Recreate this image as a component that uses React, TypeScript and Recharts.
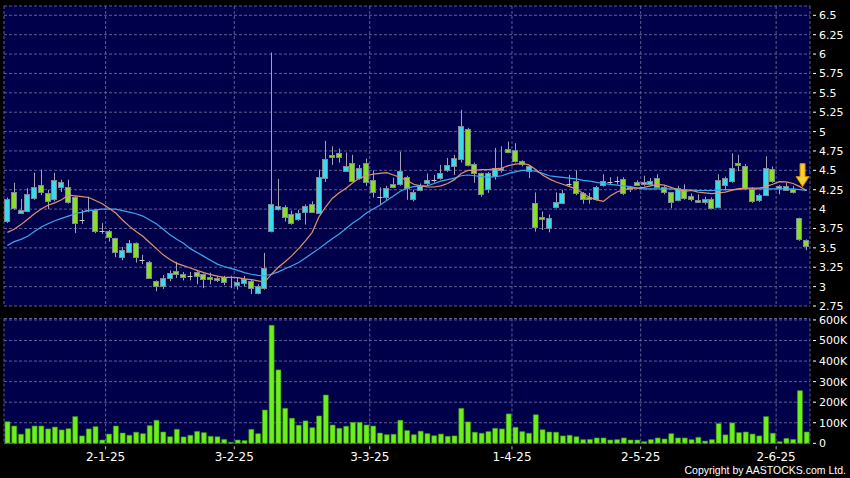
import React from "react";
import {
  ComposedChart,
  BarChart,
  Bar,
  Line,
  XAxis,
  YAxis,
  CartesianGrid,
  ReferenceDot,
} from "recharts";

// trading days per month (day of month)
const dec24 = [9, 10, 11, 12, 13, 16, 17, 18, 19, 20, 23, 24, 27, 30, 31];
const jan25 = [2, 3, 6, 7, 8, 9, 10, 13, 14, 15, 16, 17, 20, 21, 22, 23, 24, 27, 28];
const feb25 = [3, 4, 5, 6, 7, 10, 11, 12, 13, 14, 17, 18, 19, 20, 21, 24, 25, 26, 27, 28];
const mar25 = [3, 4, 5, 6, 7, 10, 11, 12, 13, 14, 17, 18, 19, 20, 21, 24, 25, 26, 27, 28, 31];
const apr25 = [1, 2, 3, 7, 8, 9, 10, 11, 14, 15, 16, 17, 22, 23, 24, 25, 28, 29, 30];
const may25 = [2, 6, 7, 8, 9, 12, 13, 14, 15, 16, 19, 20, 21, 22, 23, 26, 27, 28, 29, 30];
const jun25 = [2, 3, 4, 5, 6];

const months = [
  { m: 12, y: 24, days: dec24 },
  { m: 1, y: 25, days: jan25 },
  { m: 2, y: 25, days: feb25 },
  { m: 3, y: 25, days: mar25 },
  { m: 4, y: 25, days: apr25 },
  { m: 5, y: 25, days: may25 },
  { m: 6, y: 25, days: jun25 },
];

const opens = [
  3.84, 4.22, 3.95, 3.98, 4.15, 4.31, 4.21, 4.13, 4.29, 4.28,
  4.16, 3.86, 3.99, 3.99, 3.72, 3.72, 3.63, 3.38, 3.45, 3.56,
  3.34, 3.32, 3.07, 3.01, 3.11, 3.2, 3.16, 3.14, 3.19, 3.16,
  3.125, 3.09, 3.125, 3.12, 3.02, 3.05, 3.07, 2.92, 2.98, 3.72,
  4.0, 4.03, 3.94, 3.875, 3.965, 4.07, 3.95, 4.405, 4.7, 4.73,
  4.495, 4.59, 4.4, 4.6, 4.37, 4.16, 4.155, 4.32, 4.32, 4.41,
  4.12, 4.25, 4.335, 4.38, 4.4, 4.51, 4.56, 4.64, 5.03, 4.58,
  4.46, 4.26, 4.43, 4.5, 4.78, 4.76, 4.615, 4.48, 4.085, 3.9,
  3.755, 4.025, 4.08, 4.32, 4.36, 4.21, 4.16, 4.13, 4.305, 4.35,
  4.36, 4.39, 4.25, 4.35, 4.315, 4.32, 4.4, 4.28, 4.215, 4.12,
  4.26, 4.165, 4.095, 4.09, 4.13, 4.02, 4.305, 4.36, 4.59, 4.55,
  4.26, 4.12, 4.185, 4.52, 4.3, 4.3, 4.26, 3.88, 3.6,
];

const highs = [
  4.15, 4.34, 4.13, 4.27, 4.47, 4.51, 4.25, 4.47, 4.38, 4.38,
  4.17, 3.99, 4.16, 4.0, 3.82, 3.73, 3.63, 3.51, 3.6, 3.57,
  3.41, 3.33, 3.08, 3.15, 3.21, 3.32, 3.19, 3.19, 3.2, 3.17,
  3.18, 3.14, 3.14, 3.14, 3.12, 3.14, 3.09, 3.03, 3.435, 6.02,
  4.39, 4.05, 3.98, 3.99, 4.06, 4.1, 4.51, 4.88, 4.81, 4.78,
  4.73, 4.7, 4.57, 4.65, 4.5, 4.28, 4.3, 4.405, 4.74, 4.43,
  4.25, 4.33, 4.46, 4.44, 4.57, 4.66, 4.7, 5.28, 5.05, 4.6,
  4.47, 4.48, 4.79, 4.81, 4.87, 4.85, 4.63, 4.57, 4.215, 3.97,
  3.93, 4.215, 4.25, 4.44, 4.5, 4.22, 4.21, 4.3, 4.45, 4.41,
  4.42, 4.41, 4.3, 4.37, 4.43, 4.4, 4.45, 4.3, 4.22, 4.3,
  4.32, 4.2, 4.19, 4.16, 4.15, 4.45, 4.42, 4.72, 4.7, 4.58,
  4.28, 4.2, 4.68, 4.55, 4.31, 4.34, 4.3, 3.89, 3.61,
];

const lows = [
  3.82, 3.99, 3.94, 3.96, 4.12, 4.18, 4.0, 4.1, 4.22, 4.07,
  3.69, 3.81, 3.96, 3.69, 3.68, 3.58, 3.38, 3.34, 3.43, 3.31,
  3.29, 3.1, 2.94, 2.97, 3.07, 3.11, 3.08, 3.08, 3.03, 2.98,
  3.03, 3.06, 3.02, 2.98, 2.96, 3.0, 2.905, 2.9, 2.96, 3.7,
  3.98, 3.84, 3.8, 3.85, 3.8, 3.95, 3.94, 4.35, 4.57, 4.6,
  4.48, 4.35, 4.38, 4.3, 4.15, 4.06, 4.12, 4.27, 4.3, 4.12,
  4.1, 4.23, 4.3, 4.34, 4.38, 4.48, 4.44, 4.6, 4.55, 4.34,
  4.16, 4.21, 4.38, 4.47, 4.72, 4.6, 4.55, 4.4, 3.71, 3.73,
  3.7, 4.01, 4.07, 4.29, 4.18, 4.07, 4.07, 4.11, 4.29, 4.31,
  4.32, 4.18, 4.22, 4.3, 4.3, 4.3, 4.28, 4.19, 4.01, 4.1,
  4.12, 4.1, 4.08, 4.06, 4.0, 4.01, 4.24, 4.34, 4.49, 4.25,
  4.08, 4.09, 4.17, 4.34, 4.19, 4.24, 4.2, 3.59, 3.47,
];

const closes = [
  4.13, 4.02, 3.99, 4.2, 4.29, 4.22, 4.11, 4.37, 4.35, 4.09,
  3.82, 3.86, 3.99, 3.72, 3.72, 3.64, 3.45, 3.47, 3.56, 3.38,
  3.34, 3.11, 3.01, 3.11, 3.18, 3.16, 3.125, 3.14, 3.14, 3.09,
  3.1, 3.11, 3.06, 3.12, 3.06, 3.1, 2.98, 3.01, 3.24, 4.07,
  4.04, 3.9, 3.82, 3.95, 4.04, 3.965, 4.42, 4.65, 4.68, 4.68,
  4.56, 4.36, 4.53, 4.36, 4.22, 4.16, 4.27, 4.285, 4.49, 4.27,
  4.215, 4.3, 4.37, 4.38, 4.465, 4.57, 4.66, 5.07, 4.57, 4.46,
  4.185, 4.46, 4.53, 4.53, 4.745, 4.615, 4.57, 4.55, 3.775, 3.88,
  3.885, 4.09, 4.21, 4.32, 4.21, 4.13, 4.14, 4.28, 4.36, 4.35,
  4.36, 4.215, 4.28, 4.315, 4.345, 4.365, 4.29, 4.215, 4.09, 4.27,
  4.14, 4.13, 4.12, 4.13, 4.01, 4.37, 4.4, 4.53, 4.56, 4.26,
  4.11, 4.185, 4.53, 4.36, 4.27, 4.25, 4.22, 3.61, 3.52,
];

// short moving average (orange)
const maShort = [
  3.7, 3.74, 3.8, 3.87, 3.94, 4.0, 4.05, 4.08, 4.12, 4.18,
  4.17, 4.16, 4.15, 4.11, 4.07, 4.01, 3.95, 3.86, 3.78, 3.71,
  3.65, 3.57, 3.49, 3.41, 3.35, 3.3, 3.27, 3.24, 3.21, 3.18,
  3.155, 3.135, 3.12, 3.12, 3.115, 3.1, 3.09, 3.075, 3.06, 3.16,
  3.25, 3.32, 3.4, 3.49, 3.59, 3.7, 3.9, 4.03, 4.14, 4.21,
  4.27, 4.34, 4.4, 4.43, 4.45, 4.46, 4.47, 4.44, 4.41, 4.37,
  4.32, 4.3, 4.285, 4.285, 4.3, 4.33, 4.38, 4.46, 4.5, 4.5,
  4.51, 4.51, 4.52, 4.53, 4.56, 4.58, 4.59, 4.57, 4.51, 4.44,
  4.39, 4.35, 4.32, 4.29, 4.26, 4.2, 4.15, 4.12, 4.1, 4.17,
  4.22, 4.25, 4.27, 4.27, 4.28, 4.3, 4.32, 4.31, 4.28, 4.25,
  4.23, 4.24, 4.22, 4.21, 4.2, 4.21, 4.22, 4.245, 4.265, 4.27,
  4.27, 4.27, 4.29, 4.32, 4.355, 4.35, 4.33, 4.29, 4.24,
];

// long moving average (blue)
const maLong = [
  3.53, 3.58, 3.61, 3.65, 3.71, 3.77, 3.81, 3.85, 3.88, 3.91,
  3.94, 3.96, 3.98, 3.99, 4.0, 4.0, 4.0, 3.98, 3.96, 3.94,
  3.91, 3.86, 3.81, 3.74, 3.67, 3.61, 3.56, 3.49, 3.44, 3.39,
  3.34, 3.29, 3.26, 3.235, 3.21, 3.18, 3.16, 3.145, 3.14, 3.16,
  3.19, 3.23, 3.27, 3.31, 3.37, 3.43, 3.49, 3.555, 3.62, 3.68,
  3.75, 3.82, 3.88, 3.95, 4.0, 4.05, 4.11, 4.17, 4.23, 4.27,
  4.29, 4.3, 4.3, 4.33, 4.36, 4.38, 4.4, 4.43, 4.44, 4.43,
  4.42, 4.41, 4.42, 4.43, 4.46, 4.48, 4.5, 4.5, 4.49, 4.46,
  4.43, 4.42, 4.41, 4.4, 4.39, 4.37, 4.36, 4.345, 4.33, 4.32,
  4.31, 4.3, 4.29, 4.27, 4.26, 4.26, 4.26, 4.26, 4.26, 4.255,
  4.25, 4.245, 4.24, 4.24, 4.24, 4.245, 4.25, 4.25, 4.255, 4.26,
  4.26, 4.26, 4.26, 4.26, 4.26, 4.26, 4.26, 4.25, 4.24,
];

// volume in thousands of shares
const volumes = [
  105, 84, 44, 71, 84, 84, 70, 79, 65, 71,
  130, 36, 70, 81, 16, 45, 84, 50, 39, 54,
  47, 86, 112, 55, 32, 68, 31, 39, 58, 52,
  34, 32, 19, 5, 16, 13, 68, 47, 162, 574,
  357, 170, 122, 88, 109, 76, 133, 235, 89, 73,
  83, 102, 102, 89, 84, 50, 42, 44, 112, 62,
  42, 59, 47, 37, 45, 34, 36, 170, 104, 54,
  49, 57, 73, 70, 143, 78, 57, 49, 139, 66,
  55, 54, 36, 39, 32, 18, 19, 26, 26, 16,
  18, 26, 16, 16, 8, 18, 26, 21, 47, 26,
  26, 18, 29, 11, 18, 96, 41, 99, 52, 55,
  45, 36, 130, 49, 8, 24, 19, 256, 55,
];

const priceTicks = [2.75, 3, 3.25, 3.5, 3.75, 4, 4.25, 4.5, 4.75, 5, 5.25, 5.5, 5.75, 6, 6.25, 6.5];
const volumeTicks = [0, 100000, 200000, 300000, 400000, 500000, 600000];

const dates = months.flatMap(({ m, y, days }) => days.map((d) => `${d}-${m}-${y}`));

const rows = dates.map((date, i) => ({
  idx: i,
  date,
  open: opens[i],
  high: highs[i],
  low: lows[i],
  close: closes[i],
  maShort: maShort[i],
  maLong: maLong[i],
  volume: volumes[i] * 1000,
}));

// grid line sits on the boundary before the first trading day of each month
const monthStarts: number[] = [];
months.reduce((start, mo, k) => {
  if (k > 0) monthStarts.push(start - 0.5);
  return start + mo.days.length;
}, 0);

const xDomain = [-0.5, dates.length - 0.5];

const BG = "#00004a";
const GRID = "#5e5e92";
const UP = "#38dbea";
const DOWN = "#88e026";
const WICK = "#a2a2b2";
const FONT = "DejaVu Sans";

function Candle(props: any) {
  const { x, y, width, height, payload } = props;
  if (x == null || y == null) return null;
  const { open, close, high, low } = payload;
  const top0 = Math.min(y, y + height);
  const h = Math.abs(height);
  const toY = (p: number) => top0 + ((high - p) / (high - low)) * h;
  const cx = Math.round(x + width / 2) + 0.5;
  const left = Math.round(x) + 0.5;
  const w = Math.round(width) - 1;
  if (Math.abs(close - open) < 0.005) {
    const yy = Math.round(toY(close)) + 0.5;
    return (
      <g>
        <line x1={cx} x2={cx} y1={top0} y2={top0 + h} stroke={WICK} />
        <line x1={left} x2={left + w} y1={yy} y2={yy} stroke="#c8c8c8" />
      </g>
    );
  }
  const bt = toY(Math.max(open, close));
  const bb = toY(Math.min(open, close));
  const up = close > open;
  return (
    <g>
      <line x1={cx} x2={cx} y1={top0} y2={top0 + h} stroke={WICK} />
      <rect
        x={left}
        y={Math.round(bt) + 0.5}
        width={w}
        height={Math.max(1, Math.round(bb - bt))}
        fill={up ? UP : DOWN}
        stroke="#7d8a94"
        strokeWidth={1}
      />
    </g>
  );
}

function Arrow(props: any) {
  const { cx, cy } = props;
  if (cx == null || cy == null) return null;
  const d = `M${cx - 2.5},${cy - 23} L${cx + 2.5},${cy - 23} L${cx + 2.5},${cy - 10} L${cx + 6.5},${cy - 10} L${cx},${cy} L${cx - 6.5},${cy - 10} L${cx - 2.5},${cy - 10} Z`;
  return <path d={d} fill="#f8d22a" stroke="#d08a00" strokeWidth={1} />;
}

const fmtPrice = (v: number) => String(v);
const fmtVolume = (v: number) => (v === 0 ? "0" : `${v / 1000}K`);

function RightTick(props: any) {
  const { x, y, payload, fmt } = props;
  return (
    <g>
      <line x1={x + 3} x2={x + 6} y1={y} y2={y} stroke="#ffffff" />
      <text x={x + 9} y={y + 4} fill="#ffffff" fontSize={11} fontFamily={FONT}>
        {fmt(payload.value)}
      </text>
    </g>
  );
}

function DateTick(props: any) {
  const { x, y, payload } = props;
  const label = dates[Math.round(payload.value + 0.5)];
  return (
    <g>
      <line x1={x} x2={x} y1={y + 3} y2={y + 6} stroke="#c0c0c0" />
      <text x={x} y={y + 18} textAnchor="middle" fill="#ffffff" fontSize={12} fontFamily={FONT}>
        {label}
      </text>
    </g>
  );
}

export default function App() {
  return (
    <div
      style={{
        position: "absolute",
        left: 0,
        top: 0,
        width: 850,
        height: 478,
        background: "#000000",
        overflow: "hidden",
      }}
    >
      <div style={{ position: "absolute", left: 0, top: 0 }}>
        <ComposedChart
          width={850}
          height={312}
          data={rows}
          margin={{ top: 6, right: 0, bottom: 6, left: 4 }}
        >
          <CartesianGrid stroke={GRID} strokeDasharray="3 2" fill={BG} />
          <XAxis dataKey="idx" type="number" domain={xDomain} ticks={monthStarts} hide />
          <YAxis
            orientation="right"
            width={40}
            domain={[2.75, 6.62]}
            ticks={priceTicks}
            interval={0}
            axisLine={false}
            tickLine={false}
            tickSize={0}
            tickMargin={0}
            tick={<RightTick fmt={fmtPrice} />}
          />
          <Bar
            dataKey={(d: any) => [d.low, d.high]}
            barSize={6}
            shape={Candle}
            isAnimationActive={false}
          />
          <Line
            dataKey="maLong"
            stroke="#3aa8ee"
            strokeWidth={1.2}
            dot={false}
            isAnimationActive={false}
          />
          <Line
            dataKey="maShort"
            stroke="#e2916a"
            strokeWidth={1.2}
            dot={false}
            isAnimationActive={false}
          />
          <ReferenceDot x={117.4} y={4.29} r={0} shape={Arrow} />
        </ComposedChart>
      </div>
      <div style={{ position: "absolute", left: 0, top: 312 }}>
        <BarChart
          width={850}
          height={166}
          data={rows}
          margin={{ top: 6.5, right: 0, bottom: 0, left: 4 }}
        >
          <CartesianGrid stroke={GRID} strokeDasharray="3 2" fill={BG} />
          <XAxis
            dataKey="idx"
            type="number"
            domain={xDomain}
            ticks={monthStarts}
            interval={0}
            height={34.7}
            axisLine={false}
            tickLine={false}
            tickSize={0}
            tickMargin={0}
            tick={<DateTick />}
          />
          <YAxis
            orientation="right"
            width={40}
            domain={[0, 607000]}
            ticks={volumeTicks}
            interval={0}
            axisLine={false}
            tickLine={false}
            tickSize={0}
            tickMargin={0}
            tick={<RightTick fmt={fmtVolume} />}
          />
          <Bar
            dataKey="volume"
            barSize={5}
            fill="#6cf01c"
            stroke="#3d8a16"
            strokeWidth={0.6}
            isAnimationActive={false}
          />
        </BarChart>
      </div>
      <div
        style={{
          position: "absolute",
          right: 4,
          top: 465,
          color: "#ffffff",
          fontFamily: "Liberation Sans",
          fontSize: 10.5,
          lineHeight: "11px",
          whiteSpace: "nowrap",
        }}
      >
        Copyright by AASTOCKS.com Ltd.
      </div>
    </div>
  );
}
